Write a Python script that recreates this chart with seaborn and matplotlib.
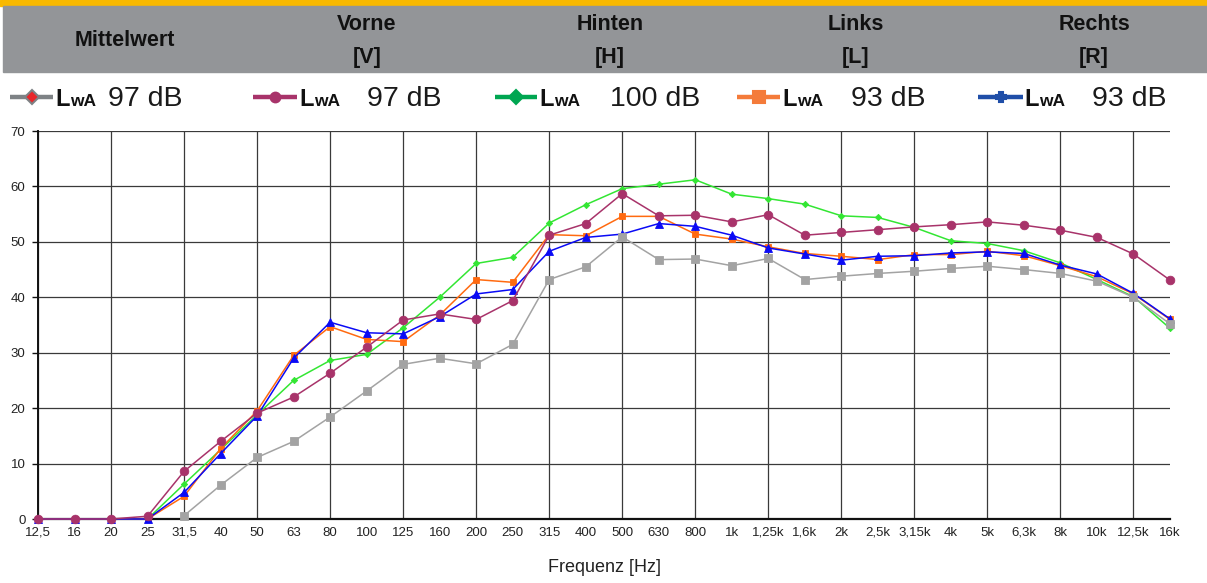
"""
Schallleistungspegel je Terzband: Mittelwert und vier Messseiten
"""

import matplotlib
matplotlib.use("Agg")
import matplotlib.pyplot as plt
import numpy as np
import pandas as pd
import seaborn as sns
from matplotlib.lines import Line2D
from matplotlib.patches import Rectangle
from matplotlib.ticker import FixedLocator

FREQ_LABELS = [
    "12,5", "16", "20", "25", "31,5", "40", "50", "63", "80", "100", "125",
    "160", "200", "250", "315", "400", "500", "630", "800", "1k", "1,25k",
    "1,6k", "2k", "2,5k", "3,15k", "4k", "5k", "6,3k", "8k", "10k", "12,5k", "16k",
]

nan = np.nan
MITTELWERT = [
    nan, nan, nan, nan, 0.6, 6.1, 11.1, 14.0, 18.4, 23.1, 27.9,
    29.0, 28.0, 31.5, 43.2, 45.5, 50.9, 46.8, 46.9, 45.7, 47.0,
    43.2, 43.8, 44.3, 44.7, 45.2, 45.6, 45.0, 44.3, 42.9, 40.0, 35.2,
]
VORNE = [
    0, 0, 0, 0.5, 8.6, 14.0, 19.1, 22.0, 26.3, 31.0, 35.9,
    37.0, 36.0, 39.4, 51.2, 53.3, 58.7, 54.7, 54.8, 53.6, 54.9,
    51.2, 51.7, 52.2, 52.7, 53.1, 53.6, 53.0, 52.1, 50.8, 47.8, 43.1,
]
HINTEN = [
    0, 0, 0, 0, 6.3, 12.5, 18.8, 25.0, 28.6, 29.7, 34.5,
    40.0, 46.1, 47.2, 53.4, 56.7, 59.6, 60.4, 61.2, 58.6, 57.8,
    56.8, 54.7, 54.4, 52.6, 50.2, 49.7, 48.4, 46.2, 43.2, 40.1, 34.4,
]
LINKS = [
    0, 0, 0, 0, 4.1, 12.7, 19.5, 29.5, 34.7, 32.4, 32.0,
    36.8, 43.2, 42.7, 51.3, 51.1, 54.6, 54.6, 51.4, 50.5, 49.1,
    47.9, 47.4, 46.8, 47.7, 47.7, 48.3, 47.5, 45.7, 43.7, 40.6, 36.0,
]
RECHTS = [
    0, 0, 0, 0, 4.8, 11.8, 18.6, 29.0, 35.5, 33.6, 33.4,
    36.5, 40.6, 41.4, 48.3, 50.8, 51.4, 53.3, 52.8, 51.2, 48.9,
    47.8, 46.7, 47.4, 47.5, 48.0, 48.2, 47.9, 45.8, 44.2, 40.7, 36.1,
]

HEADERS = ["Mittelwert", "Vorne\n[V]", "Hinten\n[H]", "Links\n[L]", "Rechts\n[R]"]
LEVELS = ["97 dB", "97 dB", "100 dB", "93 dB", "93 dB"]

W, H = 1207, 583


def fx(x):
    return x / W


def fy(y):
    return 1 - y / H


sns.set_style("white")
plt.rcParams["font.family"] = ["Liberation Sans", "DejaVu Sans"]

fig = plt.figure(figsize=(W / 100, H / 100), dpi=100)

# header bands
fig.add_artist(Rectangle((0, fy(6)), 1, fy(0) - fy(6), transform=fig.transFigure,
                         color="#F9B900", zorder=0))
fig.add_artist(Rectangle((fx(3), fy(72)), 1, fy(6) - fy(72), transform=fig.transFigure,
                         color="#939598", zorder=0))

header_x = [125, 367, 610, 856, 1094]
for hx, txt in zip(header_x, HEADERS):
    if "\n" in txt:
        top, bottom = txt.split("\n")
        fig.text(fx(hx), fy(25), top, ha="center", va="center", fontsize=15.5,
                 fontweight="bold", color="#111111")
        fig.text(fx(hx), fy(57), bottom, ha="center", va="center", fontsize=15.5,
                 fontweight="bold", color="#111111")
    else:
        fig.text(fx(hx), fy(41), txt, ha="center", va="center", fontsize=15.5,
                 fontweight="bold", color="#111111")

# legend row
series = [
    # name, values, line colour, legend colour, marker, size, legend marker
    ("Mittelwert", MITTELWERT, "#A3A3A3", "#7E8285", "s", 5.2, "D"),
    ("Vorne", VORNE, "#A8336A", "#A8336A", "o", 6.2, "o"),
    ("Hinten", HINTEN, "#33E633", "#00A651", "D", 3.2, "D"),
    ("Links", LINKS, "#FF6A10", "#F47B3A", "s", 4.6, "s"),
    ("Rechts", RECHTS, "#0A0AF5", "#1F4EA8", "^", 5.6, "P"),
]
legend_line_x = [(10, 53), (253, 297), (495, 537), (737, 780), (978, 1023)]
legend_l_x = [55, 299, 539, 782, 1024]
legend_db_x = [108, 367, 610, 851, 1092]
ly = 97
for (name, vals, col, lcol, mk, ms, lmk), (x0, x1), lx, dx, lvl in zip(
        series, legend_line_x, legend_l_x, legend_db_x, LEVELS):
    fig.add_artist(Line2D([fx(x0), fx(x1)], [fy(ly), fy(ly)], transform=fig.transFigure,
                          color=lcol, lw=3.2, solid_capstyle="butt"))
    mfc = "#E8262A" if name == "Mittelwert" else lcol
    fig.add_artist(Line2D([fx((x0 + x1) / 2)], [fy(ly)], transform=fig.transFigure,
                          marker=lmk, markersize=7 if lmk != "s" else 8.5,
                          markerfacecolor=mfc, markeredgecolor=lcol, markeredgewidth=1.5,
                          linestyle="none"))
    fig.text(fx(lx), fy(ly + 9), "L", ha="left", va="baseline", fontsize=17,
             fontweight="bold", color="#111111")
    fig.text(fx(lx + 15), fy(ly + 9), "wA", ha="left", va="baseline", fontsize=12.5,
             fontweight="bold", color="#111111")
    fig.text(fx(dx), fy(ly + 9), lvl, ha="left", va="baseline", fontsize=20.5,
             color="#1a1a1a")

# chart
ax = fig.add_axes([fx(38), fy(519), fx(1170) - fx(38), fy(131) - fy(519)])
x = np.arange(len(FREQ_LABELS))
draw_order = ["Hinten", "Links", "Rechts", "Vorne", "Mittelwert"]
lookup = {s[0]: s for s in series}
for z, name in enumerate(draw_order):
    _, vals, col, _, mk, ms, _ = lookup[name]
    df = pd.DataFrame({"pos": x, "level": vals}).dropna()
    sns.lineplot(data=df, x="pos", y="level", ax=ax, color=col, marker=mk,
                 markersize=ms, markeredgecolor=col, markeredgewidth=0.6,
                 linewidth=1.1, clip_on=False, zorder=3 + z)

ax.set_xlim(0, len(FREQ_LABELS) - 1)
ax.set_ylim(0, 70)
ax.set_xticks(x)
ax.set_xticklabels(FREQ_LABELS)
ax.xaxis.remove_overlapping_locs = False
ax.xaxis.set_minor_locator(FixedLocator(range(0, len(FREQ_LABELS) - 1, 2)))
ax.set_yticks(range(0, 71, 10))
ax.set_xlabel("")
ax.set_ylabel("")

ax.grid(False)
ax.grid(which="minor", axis="x", color="#3a3a3a", lw=0.9)
ax.grid(which="major", axis="y", color="#3a3a3a", lw=0.9)
ax.set_axisbelow(True)

for side in ["top", "right"]:
    ax.spines[side].set_visible(False)
ax.spines["left"].set_color("#111111")
ax.spines["bottom"].set_color("#111111")
ax.spines["left"].set_linewidth(1.4)
ax.spines["bottom"].set_linewidth(1.6)

ax.tick_params(axis="x", which="major", direction="inout", length=7, width=1.2,
               color="#111111", labelsize=9.5, labelcolor="#222222", pad=2)
ax.tick_params(axis="x", which="minor", length=0)
ax.tick_params(axis="y", direction="out", length=4, width=1.0, color="#111111",
               labelsize=9.5, labelcolor="#222222", pad=5, left=True)

fig.text(fx(605), fy(567), "Frequenz [Hz]", ha="center", va="center", fontsize=13,
         color="#222222")

fig.savefig("out.png", dpi=100)
